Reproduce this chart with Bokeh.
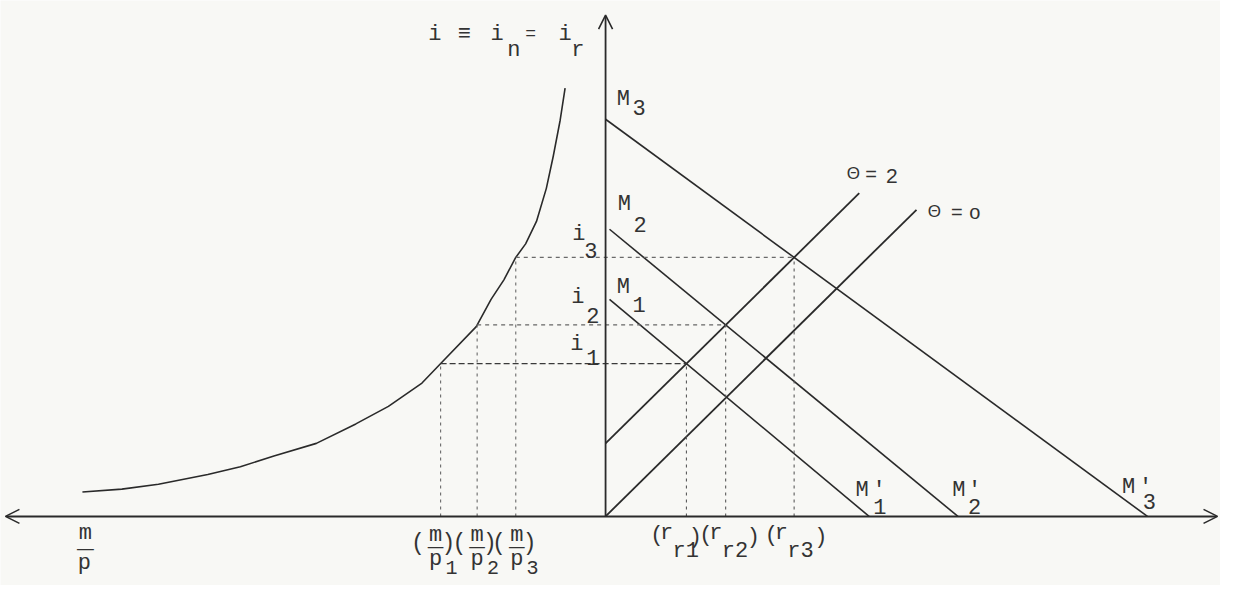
import numpy as np
from bokeh.plotting import figure
from bokeh.models import Arrow, OpenHead, Range1d
from bokeh.core.properties import value
from bokeh.embed import file_html
from bokeh.resources import INLINE

# ---------------- data (diagram units, origin where the two axes cross) ----------------
# left half: real balances m/p (to the left) against the interest rate i (upward)
curve_mp = [-530, -490, -453, -403, -370, -336, -293, -253, -220, -186, -168,
            -131, -116, -103, -91, -81, -70, -60, -53, -46, -41]
curve_i = [25, 28, 33, 43, 51, 62, 75, 95, 113, 137, 156,
           195, 223, 243, 266, 280, 303, 337, 370, 407, 440]

# right half: money lines M1, M2, M3 from the i axis down to the r axis
m_names = ["1", "2", "3"]
m_start_r = [4, 4, 0]
m_start_i = [223, 295, 408]
m_end_r = [267, 357, 549]

# supply lines Theta = 2 and Theta = o
theta_names = ["2", "o"]
theta_start_i = [75, 0]
theta_end_r = [257, 315]
theta_slope = [1.0, 1.0]

# axis extents
axis_left, axis_right, axis_top = -608, 620, 515

# ---------------- derived equilibria (Theta = 2 with each M line) ----------------
a, s = theta_start_i[0], theta_slope[0]
eq_r, eq_i = [], []
for x0, y0, xe in zip(m_start_r, m_start_i, m_end_r):
    k = y0 / (xe - x0)
    xr = (y0 + k * x0 - a) / (s + k)
    eq_r.append(xr)
    eq_i.append(a + s * xr)
# matching real balances on the curve
order = np.argsort(curve_i)
eq_mp = [float(np.interp(iv, np.array(curve_i)[order], np.array(curve_mp)[order])) for iv in eq_i]

INK = "#333333"
LINE = "#2a2a2a"
PAPER = "#f8f8f5"
MONO = "Liberation Mono"
SANS = "Liberation Sans"

p = figure(width=1220, height=585, x_range=Range1d(-613, 623), y_range=Range1d(-71, 530),
           output_backend="svg", toolbar_location=None,
           x_axis_location=None, y_axis_location=None, min_border=0)
p.grid.visible = False
p.outline_line_color = None
p.background_fill_color = PAPER
p.border_fill_color = PAPER

# axes with arrows
p.add_layout(Arrow(start=OpenHead(size=14, line_width=1.6, line_color=LINE),
                   end=OpenHead(size=14, line_width=1.6, line_color=LINE),
                   x_start=axis_left, y_start=0, x_end=axis_right, y_end=0,
                   line_width=2, line_color=LINE))
p.add_layout(Arrow(end=OpenHead(size=14, line_width=1.6, line_color=LINE),
                   x_start=0, y_start=0, x_end=0, y_end=axis_top,
                   line_width=1.8, line_color=LINE))

# money-demand curve
p.line(curve_mp, curve_i, line_width=1.6, line_color=LINE)

# M lines
for x0, y0, xe in zip(m_start_r, m_start_i, m_end_r):
    p.line([x0, xe], [y0, 0], line_width=1.6, line_color=LINE)

# Theta lines
for y0, xe, sl in zip(theta_start_i, theta_end_r, theta_slope):
    p.line([0, xe], [y0, y0 + sl * xe], line_width=1.8, line_color=LINE)

# dashed guides
h_dash = ["6 3", "4 4", "4 4"]
h_col = ["#3a3a3a", "#666666", "#6a6a6a"]
for k in range(3):
    p.line([eq_mp[k], eq_r[k]], [eq_i[k], eq_i[k]], line_width=1.2,
           line_color=h_col[k], line_dash=h_dash[k])
    p.line([eq_mp[k], eq_mp[k]], [0, eq_i[k]], line_width=1.1,
           line_color="#6a6a6a", line_dash="3 4")
    p.line([eq_r[k], eq_r[k]], [0, eq_i[k]], line_width=1.1,
           line_color="#5a5a5a", line_dash="3 4")


def label(x, y, txt, size=22, font=MONO, align="center", color=INK):
    p.text(x=[x], y=[y], text=[txt], text_font=value(font),
           text_font_size=value(f"{size}px"), text_align=align,
           text_baseline="alphabetic", text_color=color)


# title on the vertical axis: i ≡ i_n = i_r
label(-173, 495, "i")
label(-143, 495, "≡")
label(-110, 495, "i")
label(-93, 479, "n")
label(-76, 496, "=", size=18)
label(-41, 495, "i")
label(-28, 479, "r")

# M labels at the start of each line
m_lab = [(18, 235, 34, 218), (19, 320, 35, 300), (18, 428, 34, 420)]
for name, (mx, my, sx, sy) in zip(m_names, m_lab):
    label(mx, my, "M")
    label(sx, sy, name)

# i labels
i_lab = [(-29, 20, -13, 6), (-28, 28, -13, 10), (-27, 24, -15, 7)]
for k, (ix, idy, sx, sdy) in enumerate(i_lab):
    label(ix, eq_i[k] + idy, "i")
    label(sx, eq_i[k] + sdy, str(k + 1))

# M' labels at the ends
mp_lab = [(260, 27, 277, 278, 10), (358, 27, 374, 374, 10), (530, 30, 547, 551, 15)]
for name, (mx, my, px_, sx, sy) in zip(m_names, mp_lab):
    label(mx, my, "M")
    label(px_, my, "'")
    label(sx, sy, name)

# Theta labels
th_lab = [(251, 352, 269, 290), (333, 313, 356, 374)]
for name, (tx, ty, ex, nx) in zip(theta_names, th_lab):
    label(tx, ty, "Θ", size=17, font=SANS)
    label(ex, ty, "=", size=20, font=SANS)
    label(nx, ty - (2 if name == "2" else 0), name, size=21 if name == "2" else 20, font=SANS)

# m/p on the horizontal axis (left)
label(-527, -18, "m")
label(-527, -24, "_", size=28)
label(-528, -48, "p")

# (m/p)_k labels
mp_shift = [-5, 0, 1]
for k in range(3):
    xm = eq_mp[k] + mp_shift[k]
    label(xm - 18, -28, "(", size=23)
    label(xm, -20, "m")
    label(xm, -22, "_", size=26)
    label(xm + 13, -28, ")", size=23)
    label(xm, -44, "p")
    label(xm + 16, -53, str(k + 1), size=20)

# (r_rk) labels
r_shift = [-33, -23, -26]
r_close = [42, 51, 53]
for k in range(3):
    x0 = eq_r[k] + r_shift[k]
    label(x0 + 3, -20, "(")
    label(x0 + 13, -18, "r")
    label(x0 + 19, -36, "r" + str(k + 1), align="left")
    label(x0 + r_close[k], -22, ")")

open("out.html", "w").write(file_html(p, INLINE))
